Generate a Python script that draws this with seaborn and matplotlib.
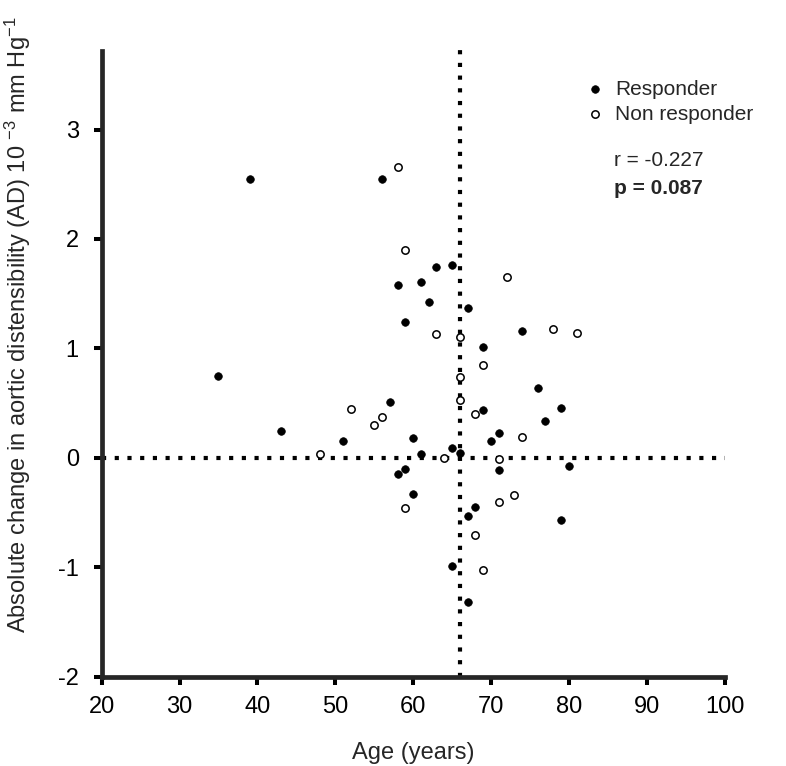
import numpy as np
import pandas as pd
import matplotlib
matplotlib.use("Agg")
import matplotlib.pyplot as plt
import seaborn as sns

sns.set_style("ticks")
plt.rcParams["font.family"] = ["Liberation Sans", "DejaVu Sans"]
plt.rcParams["mathtext.fontset"] = "custom"
plt.rcParams["mathtext.rm"] = "Liberation Sans"
plt.rcParams["mathtext.it"] = "Liberation Sans:italic"
plt.rcParams["mathtext.bf"] = "Liberation Sans:bold"
plt.rcParams["axes.unicode_minus"] = False

# responders (filled)
resp_age = [39, 56, 35, 43, 51, 57, 60, 61, 58, 59, 60, 59, 63, 65, 58, 61, 62,
            67, 74, 69, 76, 79, 69, 77, 71, 70, 65, 66, 71, 80, 68, 67, 79, 65, 67]
resp_ad = [2.55, 2.55, 0.75, 0.245, 0.15, 0.51, 0.18, 0.04, -0.15, -0.10, -0.33,
           1.24, 1.745, 1.76, 1.58, 1.61, 1.425, 1.365, 1.16, 1.01, 0.64, 0.455,
           0.435, 0.335, 0.226, 0.156, 0.087, 0.044, -0.115, -0.07, -0.45, -0.535,
           -0.565, -0.985, -1.32]

# non responders (open)
non_age = [58, 59, 72, 63, 66, 78, 81, 69, 66, 66, 52, 55, 56, 48, 68, 74, 64,
           71, 59, 73, 71, 68, 69]
non_ad = [2.66, 1.90, 1.65, 1.13, 1.106, 1.18, 1.14, 0.85, 0.735, 0.53, 0.45,
          0.30, 0.375, 0.04, 0.405, 0.19, 0.0, -0.01, -0.46, -0.335, -0.405,
          -0.705, -1.02]

age_cutoff = 66
r_text = "r = -0.227"
p_text = "p = 0.087"

df = pd.DataFrame({
    "age": resp_age + non_age,
    "ad": resp_ad + non_ad,
    "group": ["Responder"] * len(resp_age) + ["Non responder"] * len(non_age),
})

fig = plt.figure(figsize=(7.86, 7.66), dpi=100)
ax = fig.add_axes([0.1294, 0.1164, 0.7924, 0.8174])

dots = dict(color="black", lw=3, dashes=(1, 2.05), dash_capstyle="butt", zorder=1)
ax.axvline(age_cutoff, ymax=1.007, clip_on=False, **dots)
ax.axhline(0, **dots)

sns.scatterplot(data=df[df.group == "Responder"], x="age", y="ad",
                color="black", edgecolor="black", linewidth=0.5, s=30,
                label="Responder", ax=ax, zorder=3)
sns.scatterplot(data=df[df.group == "Non responder"], x="age", y="ad",
                facecolor="white", edgecolor="black", linewidth=1.1, s=28,
                label="Non responder", ax=ax, zorder=3)

ax.set_xlim(20, 100)
ax.set_ylim(-2, 3.72)
ax.set_xticks(np.arange(20, 101, 10))
ax.set_yticks(np.arange(-2, 4, 1))

sns.despine(ax=ax)
for s in ["left", "bottom"]:
    ax.spines[s].set_linewidth(3.4)
ax.tick_params(direction="out", length=5.5, width=2.9, labelsize=17, colors="black")
ax.tick_params(axis="x", pad=8.5)
ax.tick_params(axis="y", pad=11)

ax.set_xlabel("Age (years)", fontsize=17)
ax.xaxis.set_label_coords(0.5, -0.104)
ax.xaxis.label.set_va("top")
ax.set_ylabel("Absolute change in aortic distensibility (AD) 10 $^{-3}$ mm Hg$^{-1}$",
              fontsize=17)
ax.yaxis.set_label_coords(-0.11, 0.562)

ax.legend(loc="upper left", bbox_to_anchor=(0.7438, 0.8961),
          bbox_transform=fig.transFigure, frameon=False, fontsize=15,
          handletextpad=0.45, borderaxespad=0, borderpad=0,
          labelspacing=0.3, handlelength=1)

fig.text(614 / 786, 1 - 166.5 / 766, r_text, fontsize=15, va="baseline")
fig.text(614 / 786, 1 - 194.0 / 766, p_text, fontsize=15, va="baseline",
         fontweight="bold")

fig.savefig("out.png", dpi=100)
